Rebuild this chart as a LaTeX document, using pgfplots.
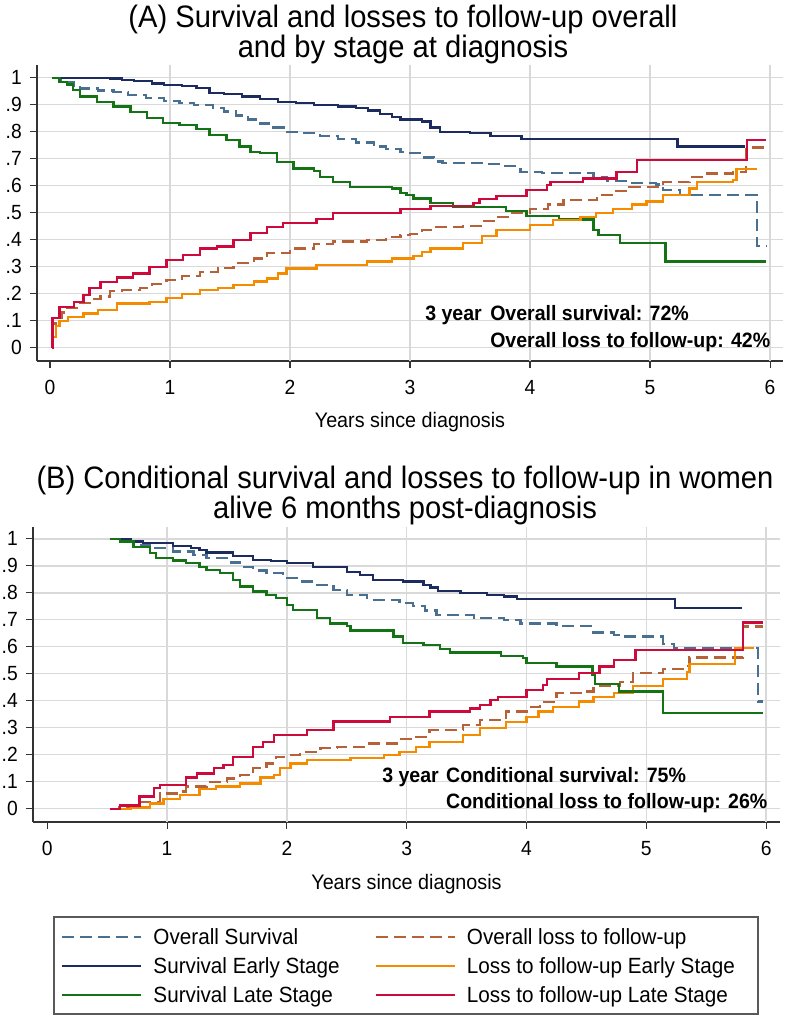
\documentclass[border=0pt]{standalone}
\usepackage{fontspec}
\setmainfont{Liberation Sans}[FakeStretch=0.94]
\usepackage{pgfplots}
\pgfplotsset{compat=1.18}

\definecolor{cOS}{RGB}{74,112,145}
\definecolor{cSE}{RGB}{28,44,94}
\definecolor{cSL}{RGB}{20,115,20}
\definecolor{cOL}{RGB}{182,97,55}
\definecolor{cLE}{RGB}{245,140,0}
\definecolor{cLL}{RGB}{204,10,60}

\pgfplotsset{
  stataaxis/.style={
    scale only axis,
    axis x line*=bottom, axis y line*=left,
    axis line style={-, draw=black!80, line width=1.1pt},
    tick align=outside, major tick length=7pt,
    every tick/.style={draw=black!80, line width=1.1pt},
    xtick={0,1,2,3,4,5,6}, xticklabels={0,1,2,3,4,5,6},
    ytick={0,0.1,0.2,0.3,0.4,0.5,0.6,0.7,0.8,0.9,1},
    yticklabels={0,.1,.2,.3,.4,.5,.6,.7,.8,.9,1},
    ymajorgrids=true,
    major grid style={draw=black!15, line width=1.3pt},
    extra x ticks={1,2,3,4,5,6}, extra x tick labels={},
    extra x tick style={xmajorgrids=true, major tick length=0pt},
    xticklabel style={font=\fontsize{20.5}{24}\selectfont, anchor=north, inner sep=0pt, yshift=-12pt},
    yticklabel style={font=\fontsize{20.5}{24}\selectfont, anchor=east, inner sep=0pt, xshift=-8pt},
    xlabel={Years since diagnosis},
    xlabel style={font=\fontsize{21}{25}\selectfont, at={(axis description cs:0.5,0)}, anchor=base, inner sep=0pt, yshift=-67pt},
    legend image code/.code={\draw[#1] (0pt,0pt) -- (79pt,0pt);},
  },
  pOS/.style={color=cOS, line width=2.3pt, dash pattern=on 12pt off 6pt, const plot},
  pSE/.style={color=cSE, line width=2.3pt, const plot},
  pSL/.style={color=cSL, line width=2.3pt, const plot},
  pOL/.style={color=cOL, line width=2.3pt, dash pattern=on 12pt off 6pt, const plot},
  pLE/.style={color=cLE, line width=2.3pt, const plot},
  pLL/.style={color=cLL, line width=2.3pt, const plot},
}

\begin{document}
\begin{tikzpicture}
\path[use as bounding box] (0,0) rectangle (786pt,1020pt);

% Titles
\node[anchor=base, inner sep=0pt, font=\fontsize{31}{35}\selectfont] at (403pt,992pt) {(A) Survival and losses to follow-up overall};
\node[anchor=base, inner sep=0pt, font=\fontsize{31}{35}\selectfont] at (403pt,962pt) {and by stage at diagnosis};
\node[anchor=base, inner sep=0pt, font=\fontsize{31}{35}\selectfont] at (405pt,531pt) {(B) Conditional survival and losses to follow-up in women};
\node[anchor=base, inner sep=0pt, font=\fontsize{31}{35}\selectfont] at (405pt,501pt) {alive 6 months post-diagnosis};

% legend frame
\draw[draw=black!65, line width=1.1pt] (54pt,6pt) rectangle (758pt,103pt);

% ---------------- Panel A ----------------
\begin{axis}[stataaxis,
  at={(37pt,659pt)}, anchor=south west,
  width=746pt, height=296pt,
  xmin=-0.108, xmax=6.108, ymin=-0.049, ymax=1.047]
\addplot[pOS] coordinates {(0.02,1.0) (0.08,0.99) (0.14,0.982) (0.2,0.97) (0.25,0.96) (0.4,0.952) (0.53,0.946) (0.65,0.935) (0.8,0.924) (0.95,0.913) (1.08,0.907) (1.2,0.9) (1.36,0.887) (1.45,0.875) (1.55,0.86) (1.65,0.845) (1.75,0.83) (1.85,0.815) (1.95,0.80) (2.1,0.795) (2.25,0.785) (2.4,0.772) (2.55,0.76) (2.7,0.745) (2.8,0.735) (2.92,0.726) (3.0,0.72) (3.1,0.705) (3.2,0.69) (3.27,0.683) (3.6,0.68) (3.75,0.672) (3.92,0.652) (4.1,0.646) (4.53,0.633) (4.64,0.617) (4.81,0.611) (5.05,0.605) (5.11,0.584) (5.25,0.566) (5.89,0.377) (5.97,0.377)};
\addplot[pSE] coordinates {(0.02,1.0) (0.5,0.997) (0.6,0.992) (0.7,0.987) (0.85,0.978) (0.95,0.973) (1.1,0.968) (1.22,0.961) (1.33,0.944) (1.45,0.94) (1.6,0.93) (1.75,0.92) (1.9,0.91) (2.05,0.905) (2.2,0.9) (2.4,0.893) (2.55,0.887) (2.65,0.878) (2.75,0.865) (2.85,0.855) (2.92,0.845) (3.1,0.838) (3.17,0.815) (3.25,0.80) (3.5,0.795) (3.67,0.784) (3.93,0.773) (5.23,0.745) (5.79,0.745)};
\addplot[pSL] coordinates {(0.02,1.0) (0.08,0.985) (0.14,0.975) (0.19,0.955) (0.25,0.93) (0.39,0.911) (0.53,0.893) (0.67,0.874) (0.81,0.85) (0.94,0.833) (1.08,0.825) (1.22,0.81) (1.33,0.788) (1.47,0.769) (1.58,0.745) (1.67,0.726) (1.75,0.72) (1.89,0.689) (2.03,0.664) (2.2,0.655) (2.25,0.633) (2.36,0.615) (2.5,0.596) (2.85,0.59) (2.92,0.572) (2.97,0.566) (3.03,0.553) (3.17,0.537) (3.36,0.52) (3.8,0.507) (3.97,0.488) (4.24,0.475) (4.53,0.436) (4.57,0.417) (4.75,0.389) (5.13,0.319) (5.97,0.319)};
\addplot[pOL] coordinates {(0.015,0) (0.02,0.09) (0.05,0.11) (0.1,0.13) (0.14,0.146) (0.25,0.165) (0.35,0.18) (0.42,0.19) (0.5,0.21) (0.6,0.215) (0.75,0.22) (0.85,0.235) (0.97,0.25) (1.1,0.265) (1.25,0.281) (1.4,0.295) (1.53,0.313) (1.7,0.33) (1.81,0.35) (2.0,0.368) (2.2,0.383) (2.36,0.393) (2.64,0.40) (2.8,0.41) (2.92,0.417) (3.0,0.42) (3.1,0.435) (3.2,0.448) (3.44,0.451) (3.6,0.47) (3.72,0.485) (3.85,0.5) (4.0,0.513) (4.15,0.53) (4.28,0.547) (4.56,0.566) (4.7,0.58) (4.83,0.596) (5.11,0.615) (5.33,0.633) (5.45,0.645) (5.69,0.652) (5.8,0.741) (5.97,0.741)};
\addplot[pLE] coordinates {(0.015,0) (0.02,0.04) (0.05,0.08) (0.08,0.10) (0.15,0.115) (0.28,0.127) (0.4,0.14) (0.56,0.164) (0.83,0.17) (0.97,0.183) (1.1,0.198) (1.25,0.214) (1.4,0.222) (1.53,0.232) (1.7,0.245) (1.81,0.257) (1.9,0.275) (1.97,0.294) (2.22,0.306) (2.64,0.319) (2.85,0.33) (3.03,0.34) (3.1,0.355) (3.17,0.368) (3.44,0.389) (3.6,0.415) (3.72,0.436) (4.0,0.454) (4.19,0.473) (4.42,0.485) (4.55,0.5) (4.69,0.513) (4.85,0.53) (4.97,0.541) (5.11,0.566) (5.33,0.59) (5.39,0.615) (5.69,0.62) (5.72,0.661) (5.89,0.661)};
\addplot[pLL] coordinates {(0.015,0) (0.02,0.109) (0.08,0.152) (0.2,0.17) (0.28,0.195) (0.33,0.22) (0.42,0.244) (0.56,0.26) (0.69,0.275) (0.83,0.30) (0.97,0.325) (1.11,0.343) (1.25,0.368) (1.39,0.375) (1.53,0.399) (1.67,0.424) (1.81,0.448) (1.94,0.461) (2.22,0.476) (2.36,0.498) (2.92,0.513) (3.17,0.525) (3.53,0.535) (3.58,0.55) (3.72,0.562) (3.97,0.584) (4.14,0.603) (4.17,0.615) (4.44,0.627) (4.72,0.652) (4.89,0.695) (5.81,0.769) (5.97,0.769)};
\node[anchor=base east, inner sep=0pt, font=\bfseries\fontsize{20.8}{24}\selectfont] at (axis cs:3.6,0.1026) {3 year};
\node[anchor=base west, inner sep=0pt, font=\bfseries\fontsize{20.8}{24}\selectfont] at (axis cs:3.667,0.1026) {Overall survival: 72\%};
\node[anchor=base west, inner sep=0pt, font=\bfseries\fontsize{20.8}{24}\selectfont] at (axis cs:3.667,0.0026) {Overall loss to follow-up: 42\%};
\end{axis}

% ---------------- Panel B ----------------
\begin{axis}[stataaxis,
  at={(33pt,198pt)}, anchor=south west,
  width=747pt, height=295pt,
  xmin=-0.119, xmax=6.116, ymin=-0.049, ymax=1.044,
  legend columns=2, legend cell align=left,
  legend style={at={(axis description cs:0.0281,-0.322)}, anchor=north west,
    draw=none, fill=none,
    font=\fontsize{22}{26}\selectfont,
    inner xsep=7pt, inner ysep=9pt,
    nodes={inner sep=2pt},
    row sep=7.5pt,
    /tikz/every odd column/.append style={column sep=9pt},
    /tikz/every even column/.append style={column sep=33pt}}]
\addplot[pOS] coordinates {(0.52,1.0) (0.62,0.99) (0.72,0.978) (0.86,0.965) (1.05,0.953) (1.22,0.941) (1.33,0.928) (1.5,0.912) (1.61,0.895) (1.72,0.883) (1.83,0.873) (1.97,0.854) (2.11,0.842) (2.25,0.83) (2.39,0.811) (2.5,0.792) (2.67,0.774) (2.94,0.762) (3.05,0.752) (3.15,0.735) (3.25,0.718) (3.56,0.707) (3.81,0.70) (3.95,0.687) (4.25,0.677) (4.56,0.653) (4.73,0.645) (4.78,0.638) (5.14,0.611) (5.23,0.595) (5.93,0.397) (5.97,0.397)};
\addlegendentry{Overall Survival}
\addplot[pOL] coordinates {(0.52,0) (0.6,0.005) (0.75,0.026) (0.94,0.057) (1.08,0.064) (1.16,0.082) (1.33,0.10) (1.5,0.112) (1.61,0.125) (1.72,0.15) (1.83,0.168) (1.91,0.193) (2.0,0.199) (2.11,0.211) (2.28,0.224) (2.42,0.23) (2.67,0.242) (2.94,0.258) (3.05,0.267) (3.19,0.292) (3.47,0.31) (3.61,0.329) (3.83,0.36) (4.0,0.378) (4.11,0.396) (4.25,0.428) (4.47,0.434) (4.56,0.455) (4.78,0.471) (4.89,0.502) (5.14,0.517) (5.33,0.529) (5.36,0.56) (5.81,0.675) (5.97,0.675)};
\addlegendentry{Overall loss to follow-up}
\addplot[pSE] coordinates {(0.52,1.0) (0.7,0.99) (0.8,0.984) (1.05,0.974) (1.2,0.965) (1.27,0.959) (1.33,0.949) (1.55,0.937) (1.72,0.922) (1.87,0.918) (2.0,0.91) (2.22,0.895) (2.5,0.876) (2.61,0.866) (2.72,0.848) (2.97,0.842) (3.14,0.83) (3.2,0.82) (3.26,0.807) (3.45,0.80) (3.67,0.792) (3.81,0.786) (3.92,0.776) (5.24,0.745) (5.80,0.745)};
\addlegendentry{Survival Early Stage}
\addplot[pLE] coordinates {(0.55,0) (0.7,0.005) (0.86,0.02) (0.97,0.035) (1.11,0.05) (1.27,0.072) (1.41,0.082) (1.61,0.094) (1.78,0.116) (1.89,0.125) (1.94,0.15) (2.03,0.168) (2.17,0.18) (2.53,0.188) (2.81,0.199) (2.94,0.211) (3.08,0.23) (3.19,0.248) (3.47,0.273) (3.61,0.298) (3.83,0.322) (4.0,0.341) (4.1,0.36) (4.22,0.378) (4.44,0.397) (4.56,0.415) (4.73,0.428) (4.89,0.455) (5.14,0.48) (5.34,0.508) (5.36,0.536) (5.74,0.595) (5.90,0.595)};
\addlegendentry{Loss to follow-up Early Stage}
\addplot[pSL] coordinates {(0.52,1.0) (0.61,0.99) (0.72,0.971) (0.86,0.947) (0.91,0.928) (1.05,0.92) (1.16,0.91) (1.27,0.897) (1.33,0.885) (1.44,0.873) (1.55,0.848) (1.61,0.823) (1.72,0.805) (1.83,0.792) (1.91,0.78) (2.0,0.755) (2.05,0.737) (2.25,0.706) (2.36,0.687) (2.5,0.677) (2.53,0.66) (2.89,0.638) (2.97,0.615) (3.14,0.607) (3.28,0.591) (3.36,0.579) (3.79,0.566) (3.97,0.558) (4.0,0.541) (4.25,0.527) (4.55,0.496) (4.57,0.462) (4.77,0.434) (5.14,0.356) (5.97,0.356)};
\addlegendentry{Survival Late Stage}
\addplot[pLL] coordinates {(0.52,0) (0.61,0.012) (0.77,0.045) (0.89,0.076) (0.94,0.088) (1.16,0.116) (1.25,0.131) (1.39,0.15) (1.47,0.162) (1.55,0.193) (1.72,0.23) (1.80,0.248) (1.89,0.273) (2.17,0.292) (2.39,0.323) (2.86,0.341) (3.19,0.36) (3.53,0.372) (3.61,0.385) (3.70,0.403) (3.76,0.415) (4.0,0.44) (4.14,0.459) (4.17,0.48) (4.44,0.502) (4.61,0.527) (4.73,0.551) (4.91,0.588) (5.81,0.69) (5.97,0.69)};
\addlegendentry{Loss to follow-up Late Stage}
\node[anchor=base east, inner sep=0pt, font=\bfseries\fontsize{20.8}{24}\selectfont] at (axis cs:3.27,0.099) {3 year};
\node[anchor=base west, inner sep=0pt, font=\bfseries\fontsize{20.8}{24}\selectfont] at (axis cs:3.328,0.099) {Conditional survival: 75\%};
\node[anchor=base west, inner sep=0pt, font=\bfseries\fontsize{20.8}{24}\selectfont] at (axis cs:3.328,0.0026) {Conditional loss to follow-up: 26\%};
\end{axis}
\end{tikzpicture}
\end{document}
